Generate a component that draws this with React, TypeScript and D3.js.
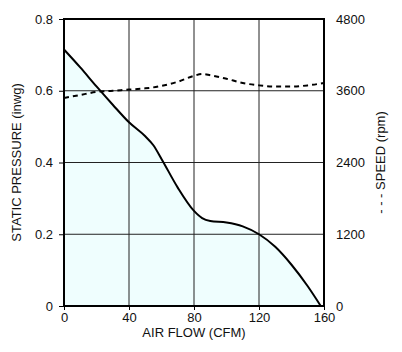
import { useEffect, useRef } from 'react';
import * as d3 from 'd3';

// static pressure curve (inwg vs CFM)
const pressureFlow = [0, 10, 20, 30, 40, 50, 55, 60, 70, 80, 85, 90, 100, 110, 120, 130, 140, 150, 158];
const pressureValues = [0.715, 0.665, 0.612, 0.561, 0.512, 0.473, 0.448, 0.41, 0.33, 0.265, 0.245, 0.237, 0.233, 0.222, 0.2, 0.165, 0.115, 0.055, 0];

// fan speed curve (rpm vs CFM)
const speedFlow = [0, 10, 20, 30, 40, 50, 60, 70, 80, 85, 90, 100, 110, 120, 130, 140, 150, 160];
const speedValues = [3480, 3530, 3580, 3600, 3620, 3640, 3680, 3750, 3850, 3880, 3860, 3800, 3730, 3690, 3670, 3670, 3690, 3730];

const flowTicks = [0, 40, 80, 120, 160];
const pressureTicks = [0, 0.2, 0.4, 0.6, 0.8];
const pressureLabels = ['0', '0.2', '0.4', '0.6', '0.8'];
const speedTicks = [0, 1200, 2400, 3600, 4800];

export default function App() {
  const svgRef = useRef<SVGSVGElement>(null);

  useEffect(() => {
    const W = 402;
    const H = 352;
    const margin = { top: 19, right: 78, bottom: 46, left: 64 };
    const width = W - margin.left - margin.right;
    const height = H - margin.top - margin.bottom;

    const root = d3.select(svgRef.current);
    root.selectAll('*').remove();
    root.attr('width', W).attr('height', H);

    const font = 'Liberation Sans, Arial, Helvetica, sans-serif';
    const svg = root.append('g').attr('transform', `translate(${margin.left},${margin.top})`);

    const x = d3.scaleLinear().domain([0, 160]).range([0, width]);
    const yP = d3.scaleLinear().domain([0, 0.8]).range([height, 0]);
    const yS = d3.scaleLinear().domain([0, 4800]).range([height, 0]);

    const pressure = pressureFlow.map((f, i) => ({ f, v: pressureValues[i] }));
    const speed = speedFlow.map((f, i) => ({ f, v: speedValues[i] }));

    // Fill under pressure curve
    svg.append('path')
      .datum(pressure)
      .attr('d', d3.area<{ f: number; v: number }>()
        .x(d => x(d.f))
        .y0(yP(0))
        .y1(d => yP(d.v))
        .curve(d3.curveMonotoneX))
      .attr('fill', '#effefe');

    // Grid
    svg.selectAll('.vgrid')
      .data(flowTicks.slice(1, -1))
      .join('line')
      .attr('x1', d => x(d)).attr('x2', d => x(d))
      .attr('y1', 0).attr('y2', height)
      .attr('stroke', '#222').attr('stroke-width', 1);

    svg.selectAll('.hgrid')
      .data(pressureTicks.slice(1, -1))
      .join('line')
      .attr('x1', 0).attr('x2', width)
      .attr('y1', d => yP(d)).attr('y2', d => yP(d))
      .attr('stroke', '#222').attr('stroke-width', 1);

    // Speed (dashed)
    svg.append('path')
      .datum(speed)
      .attr('d', d3.line<{ f: number; v: number }>()
        .x(d => x(d.f))
        .y(d => yS(d.v))
        .curve(d3.curveMonotoneX))
      .attr('fill', 'none')
      .attr('stroke', '#000')
      .attr('stroke-width', 2)
      .attr('stroke-dasharray', '5,4');

    // Pressure line
    svg.append('path')
      .datum(pressure)
      .attr('d', d3.line<{ f: number; v: number }>()
        .x(d => x(d.f))
        .y(d => yP(d.v))
        .curve(d3.curveMonotoneX))
      .attr('fill', 'none')
      .attr('stroke', '#000')
      .attr('stroke-width', 2);

    // Frame
    svg.append('rect')
      .attr('x', 0).attr('y', 0)
      .attr('width', width).attr('height', height)
      .attr('fill', 'none')
      .attr('stroke', '#000')
      .attr('stroke-width', 2);

    // Left axis
    const left = svg.append('g')
      .call(d3.axisLeft(yP).tickValues(pressureTicks)
        .tickFormat((d, i) => pressureLabels[i]).tickSize(5).tickPadding(6));
    left.select('.domain').remove();
    left.selectAll('text').style('font-family', font).style('font-size', '13px').attr('fill', '#111');

    // Bottom axis
    const bottom = svg.append('g')
      .attr('transform', `translate(0,${height})`)
      .call(d3.axisBottom(x).tickValues(flowTicks).tickSize(4).tickPadding(3));
    bottom.select('.domain').remove();
    bottom.selectAll('text').style('font-family', font).style('font-size', '13px').attr('fill', '#111');

    // Right axis
    const right = svg.append('g')
      .attr('transform', `translate(${width},0)`)
      .call(d3.axisRight(yS).tickValues(speedTicks).tickFormat(d3.format('d')).tickSize(0).tickPadding(12));
    right.select('.domain').remove();
    right.selectAll('text').style('font-family', font).style('font-size', '13px').attr('fill', '#111');

    // Titles
    svg.append('text')
      .attr('x', width / 2)
      .attr('y', height + 31)
      .attr('text-anchor', 'middle')
      .style('font-family', font)
      .style('font-size', '13px')
      .attr('fill', '#111')
      .text('AIR FLOW (CFM)');

    svg.append('text')
      .attr('transform', `translate(${-43},${height / 2}) rotate(-90)`)
      .attr('text-anchor', 'middle')
      .style('font-family', font)
      .style('font-size', '13px')
      .attr('fill', '#111')
      .text('STATIC PRESSURE (inwg)');

    svg.append('text')
      .attr('transform', `translate(${width + 61},${height / 2}) rotate(-90)`)
      .attr('text-anchor', 'middle')
      .style('font-family', font)
      .style('font-size', '13px')
      .attr('fill', '#111')
      .text('- - - SPEED (rpm)');
  }, []);

  return <svg ref={svgRef} style={{ position: 'absolute', left: 0, top: 0 }} />;
}
